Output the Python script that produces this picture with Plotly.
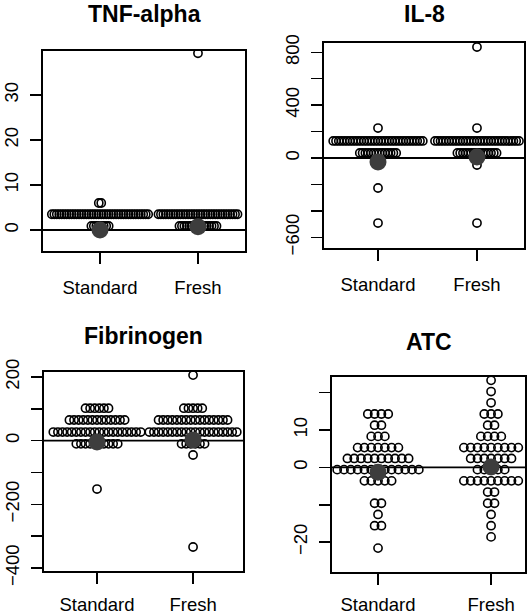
import plotly.graph_objects as go

W, H = 531, 616
FONT = "Liberation Sans, Arial, Helvetica, sans-serif"

groups = ["Standard", "Fresh"]
titles = ["TNF-alpha", "IL-8", "Fibrinogen", "ATC"]

# ---- data: distinct values (rows) and how many observations share each value ----
tnf_std_vals = [6.0, 3.5, 0.9]
tnf_std_counts = [2, 40, 8]
tnf_fre_vals = [39.3, 3.5, 0.9]
tnf_fre_counts = [1, 33, 16]
tnf_means = [0.0, 0.7]

il8_std_vals = [227, 129, 38, -227, -492]
il8_std_counts = [1, 33, 14, 1, 1]
il8_fre_vals = [840, 227, 129, 38, -53, -492]
il8_fre_counts = [1, 1, 31, 15, 1, 1]
il8_means = [-30, 8]

fib_std_vals = [102, 65, 27, -10, -152]
fib_std_counts = [6, 13, 20, 10, 1]
fib_fre_vals = [206, 102, 65, 27, -10, -45, -334]
fib_fre_counts = [1, 5, 16, 20, 6, 1, 1]
fib_means = [-4, 2]

atc_std_vals = [14.3, 11.3, 8.3, 5.3, 2.4, -0.6, -3.6, -9.6, -12.6, -15.6, -21.6]
atc_std_counts = [4, 2, 3, 7, 10, 13, 5, 2, 1, 2, 1]
atc_fre_vals = [23.3, 20.3, 17.3, 14.3, 11.3, 8.3, 5.3, 2.4, -0.6, -3.6, -6.6, -9.6, -12.6, -15.6, -18.6]
atc_fre_counts = [1, 1, 1, 3, 2, 4, 9, 7, 5, 9, 2, 2, 1, 1, 1]
atc_means = [-1.3, 0.1]

# y ticks and which labels are printed
tnf_ticks = [0, 10, 20, 30]
tnf_labels = ["0", "10", "20", "30"]
il8_ticks = [-600, -400, -200, 0, 200, 400, 600, 800]
il8_labels = ["\u2212600", "", "", "0", "", "400", "", "800"]
fib_ticks = [-400, -300, -200, -100, 0, 100, 200]
fib_labels = ["\u2212400", "", "\u2212200", "", "0", "", "200"]
atc_ticks = [-20, -10, 0, 10, 20]
atc_labels = ["\u221220", "", "0", "10", ""]

panels = [
    dict(rows=[(tnf_std_vals, tnf_std_counts), (tnf_fre_vals, tnf_fre_counts)], means=tnf_means,
         ticks=tnf_ticks, labels=tnf_labels, xstand=8,
         box=(43, 245, 51, 251), xr=(0.418, 2.48), yr=(-4.67, 39.8), sp=2.47, title_y=14),
    dict(rows=[(il8_std_vals, il8_std_counts), (il8_fre_vals, il8_fre_counts)], means=il8_means,
         ticks=il8_ticks, labels=il8_labels, xstand=8,
         box=(324, 524, 43, 248), xr=(0.4545, 2.475), yr=(-681, 870.5), sp=2.8, title_y=14),
    dict(rows=[(fib_std_vals, fib_std_counts), (fib_fre_vals, fib_fre_counts)], means=fib_means,
         ticks=fib_ticks, labels=fib_labels, xstand=5,
         box=(44, 243, 372, 571), xr=(0.448, 2.52), yr=(-409.4, 215.7), sp=4.6, title_y=336),
    dict(rows=[(atc_std_vals, atc_std_counts), (atc_fre_vals, atc_fre_counts)], means=atc_means,
         ticks=atc_ticks, labels=atc_labels, xstand=4,
         box=(332, 525, 377, 572), xr=(0.593, 2.30), yr=(-28.0, 24.2), sp=6.8, title_y=342),
]

fig = go.Figure()
shapes = []
annotations = []

for k, p in enumerate(panels):
    ax = "" if k == 0 else str(k + 1)
    xa, ya = "x" + ax, "y" + ax
    L, R, T, B = p["box"]
    ppu = (R - L) / (p["xr"][1] - p["xr"][0])
    dx = p["sp"] / ppu
    xs, ys = [], []
    for gi, (vals, counts) in enumerate(p["rows"]):
        for v, n in zip(vals, counts):
            for i in range(n):
                xs.append(gi + 1 + (i - (n - 1) / 2) * dx)
                ys.append(v)
    fig.add_trace(go.Scatter(
        x=xs, y=ys, xaxis=xa, yaxis=ya, mode="markers", showlegend=False,
        marker=dict(symbol="circle-open", size=8.2, color="black", line=dict(width=1.6, color="black")),
        hoverinfo="skip"))
    fig.add_trace(go.Scatter(
        x=[1, 2], y=p["means"], xaxis=xa, yaxis=ya, mode="markers", showlegend=False,
        marker=dict(symbol="circle", size=17, color="#3d3d3d", line=dict(width=0)),
        hoverinfo="skip"))
    dom_x = [L / W, R / W]
    dom_y = [1 - B / H, 1 - T / H]
    fig.layout["xaxis" + ax] = dict(
        domain=dom_x, range=list(p["xr"]), anchor=ya, tickvals=[1, 2], ticktext=groups,
        ticks="outside", ticklen=11, tickwidth=1.5, tickcolor="black", automargin=False,
        showline=True, mirror=True, linewidth=2, linecolor="black",
        showgrid=False, zeroline=False, ticklabelstandoff=p["xstand"],
        tickfont=dict(family=FONT, size=18.5, color="black"))
    fig.layout["yaxis" + ax] = dict(
        domain=dom_y, range=list(p["yr"]), anchor=xa, tickvals=p["ticks"], ticktext=p["labels"],
        ticks="outside", ticklen=11, tickwidth=1.5, tickcolor="black", tickangle=-90, automargin=False,
        showline=True, mirror=True, linewidth=2, linecolor="black",
        showgrid=False, zeroline=False, ticklabelstandoff=5,
        tickfont=dict(family=FONT, size=18.5, color="black"))
    shapes.append(dict(type="line", xref=xa + " domain", yref=ya, x0=0, x1=1, y0=0, y1=0,
                       line=dict(color="black", width=1.8), layer="below"))
    annotations.append(dict(text="<b>%s</b>" % titles[k], xref="paper", yref="paper",
                            x=(L + R) / 2 / W, y=1 - p["title_y"] / H, xanchor="center", yanchor="middle",
                            showarrow=False, font=dict(family=FONT, size=23, color="black")))

fig.update_layout(width=W, height=H, margin=dict(l=0, r=0, t=0, b=0, autoexpand=False), autosize=False,
                  paper_bgcolor="white", plot_bgcolor="white",
                  shapes=shapes, annotations=annotations)
fig.write_html("out.html", config={"displayModeBar": False, "staticPlot": True},
               post_script="document.body.style.margin='0';document.body.style.padding='0';"
                           "document.documentElement.style.overflow='hidden';")
